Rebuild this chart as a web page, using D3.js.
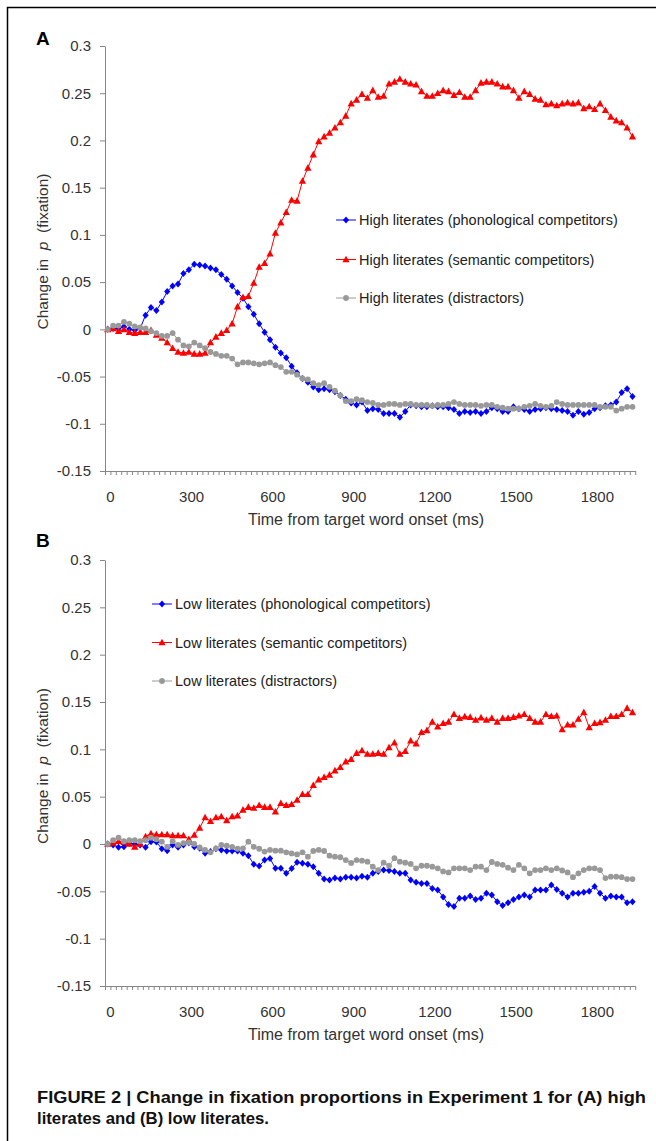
<!DOCTYPE html>
<html><head><meta charset="utf-8">
<script src="https://cdn.jsdelivr.net/npm/d3@7"></script>
<style>
html,body{margin:0;padding:0;background:#fff;}
svg{display:block;}
text{font-family:"Liberation Sans",Arial,Helvetica,sans-serif;}
</style></head><body>
<svg id="chart" width="656" height="1141"></svg>
<script>
// Category axis: time bins (ms)
const times = d3.range(0, 1960, 20);
const xTickValues = [0, 300, 600, 900, 1200, 1500, 1800];
const yTickValues = [-0.15, -0.1, -0.05, 0, 0.05, 0.1, 0.15, 0.2, 0.25, 0.3];

// Panel A: high literates
const highPhono = [
 0.000, 0.001, 0.001, 0.003, 0.000, -0.001, 0.001, 0.015, 0.023, 0.020,
 0.029, 0.040, 0.046, 0.048, 0.059, 0.063, 0.069, 0.068, 0.067, 0.065,
 0.063, 0.058, 0.053, 0.046, 0.039, 0.033, 0.024, 0.016, 0.006, -0.003,
 -0.011, -0.019, -0.025, -0.030, -0.039, -0.046, -0.052, -0.056, -0.061, -0.064,
 -0.063, -0.064, -0.066, -0.070, -0.074, -0.078, -0.080, -0.077, -0.086, -0.084,
 -0.085, -0.089, -0.089, -0.089, -0.093, -0.087, -0.080, -0.081, -0.082, -0.082,
 -0.081, -0.082, -0.082, -0.083, -0.085, -0.089, -0.087, -0.088, -0.087, -0.089,
 -0.087, -0.083, -0.084, -0.087, -0.087, -0.082, -0.084, -0.085, -0.087, -0.085,
 -0.084, -0.083, -0.084, -0.085, -0.086, -0.087, -0.091, -0.087, -0.090, -0.088,
 -0.084, -0.083, -0.081, -0.080, -0.077, -0.067, -0.063, -0.071];
const highSemantic = [
 0.000, 0.001, -0.002, 0.000, -0.003, -0.004, -0.003, -0.003, -0.001, -0.006,
 -0.009, -0.014, -0.020, -0.024, -0.025, -0.024, -0.026, -0.026, -0.025, -0.014,
 -0.008, -0.004, -0.001, 0.006, 0.024, 0.034, 0.035, 0.049, 0.066, 0.070,
 0.080, 0.102, 0.113, 0.124, 0.137, 0.136, 0.157, 0.171, 0.185, 0.199,
 0.204, 0.208, 0.2135, 0.219, 0.226, 0.239, 0.243, 0.249, 0.245, 0.253,
 0.246, 0.247, 0.260, 0.262, 0.265, 0.262, 0.260, 0.259, 0.252, 0.247,
 0.247, 0.250, 0.253, 0.252, 0.248, 0.251, 0.246, 0.246, 0.253, 0.261,
 0.262, 0.262, 0.260, 0.257, 0.257, 0.253, 0.245, 0.252, 0.249, 0.244,
 0.243, 0.238, 0.239, 0.237, 0.239, 0.240, 0.239, 0.240, 0.234, 0.236,
 0.233, 0.239, 0.232, 0.225, 0.221, 0.219, 0.2135, 0.204];
const highDistractor = [
 0.000, 0.004, 0.004, 0.008, 0.006, 0.003, 0.002, 0.001, -0.002, -0.004,
 -0.007, -0.007, -0.004, -0.011, -0.017, -0.018, -0.014, -0.017, -0.020, -0.024,
 -0.026, -0.028, -0.028, -0.031, -0.037, -0.035, -0.035, -0.036, -0.037, -0.036,
 -0.035, -0.038, -0.040, -0.045, -0.045, -0.048, -0.052, -0.053, -0.057, -0.059,
 -0.057, -0.061, -0.065, -0.070, -0.076, -0.076, -0.074, -0.075, -0.077, -0.078,
 -0.080, -0.080, -0.079, -0.079, -0.080, -0.079, -0.079, -0.080, -0.080, -0.080,
 -0.081, -0.080, -0.080, -0.079, -0.077, -0.079, -0.080, -0.080, -0.080, -0.081,
 -0.080, -0.080, -0.082, -0.083, -0.084, -0.084, -0.084, -0.082, -0.081, -0.079,
 -0.081, -0.082, -0.081, -0.077, -0.079, -0.080, -0.080, -0.080, -0.080, -0.080,
 -0.080, -0.082, -0.082, -0.082, -0.086, -0.084, -0.082, -0.082];

// Panel B: low literates
const lowPhono = [
 0.000, -0.001, -0.0035, -0.003, 0.0007, 0.000, -0.001, -0.0035, 0.0025, 0.002,
 -0.005, -0.007, -0.001, -0.0035, -0.001, 0.0014, -0.003, -0.0046, -0.0099, -0.008,
 -0.005, -0.0063, -0.0074, -0.0074, -0.0074, -0.0099, -0.0123, -0.0215, -0.0233, -0.0169,
 -0.0152, -0.0257, -0.0257, -0.031, -0.026, -0.0194, -0.0204, -0.0215, -0.024, -0.031,
 -0.037, -0.038, -0.036, -0.037, -0.035, -0.035, -0.036, -0.034, -0.035, -0.031,
 -0.029, -0.0275, -0.028, -0.029, -0.031, -0.031, -0.038, -0.0405, -0.0416, -0.0416,
 -0.047, -0.0486, -0.056, -0.064, -0.066, -0.0574, -0.0574, -0.055, -0.0585, -0.0574,
 -0.052, -0.054, -0.061, -0.065, -0.062, -0.0585, -0.056, -0.054, -0.056, -0.0486,
 -0.0486, -0.0486, -0.0433, -0.048, -0.052, -0.056, -0.052, -0.052, -0.051, -0.050,
 -0.045, -0.052, -0.0574, -0.055, -0.056, -0.056, -0.062, -0.061];
const lowSemantic = [
 0.000, 0.001, 0.003, 0.002, 0.000, -0.003, 0.000, 0.008, 0.011, 0.010,
 0.010, 0.010, 0.009, 0.009, 0.009, 0.005, 0.0095, 0.017, 0.028, 0.024,
 0.028, 0.029, 0.025, 0.029, 0.030, 0.036, 0.039, 0.038, 0.041, 0.039,
 0.039, 0.034, 0.043, 0.041, 0.042, 0.0465, 0.0525, 0.0525, 0.062, 0.068,
 0.0705, 0.073, 0.0775, 0.081, 0.087, 0.0895, 0.096, 0.0987, 0.095, 0.095,
 0.096, 0.095, 0.102, 0.107, 0.095, 0.098, 0.109, 0.106, 0.118, 0.120,
 0.129, 0.124, 0.1275, 0.129, 0.137, 0.133, 0.1345, 0.134, 0.131, 0.1335,
 0.131, 0.133, 0.129, 0.133, 0.133, 0.134, 0.1355, 0.137, 0.133, 0.129,
 0.129, 0.137, 0.135, 0.1355, 0.121, 0.126, 0.126, 0.132, 0.139, 0.123,
 0.1275, 0.1285, 0.131, 0.135, 0.135, 0.137, 0.1435, 0.139];
const lowDistractor = [
 0.000, 0.004, 0.0067, 0.003, 0.004, 0.004, 0.003, 0.004, 0.0067, 0.005,
 0.0025, -0.003, 0.003, -0.001, 0.001, 0.0018, 0.000, -0.0035, -0.0063, -0.0088,
 -0.0046, -0.001, -0.0018, -0.003, -0.005, -0.0046, 0.0025, -0.003, -0.005, -0.008,
 -0.0063, -0.007, -0.007, -0.0088, -0.010, -0.011, -0.0088, -0.0134, -0.0074, -0.0063,
 -0.0074, -0.0123, -0.0134, -0.014, -0.017, -0.020, -0.017, -0.0176, -0.0187, -0.024,
 -0.0275, -0.0197, -0.023, -0.015, -0.0187, -0.0197, -0.021, -0.0257, -0.023, -0.023,
 -0.024, -0.0257, -0.029, -0.030, -0.0257, -0.0257, -0.0257, -0.0275, -0.024, -0.024,
 -0.0275, -0.019, -0.021, -0.022, -0.025, -0.0275, -0.022, -0.0257, -0.031, -0.0275,
 -0.0275, -0.0257, -0.0275, -0.0257, -0.028, -0.030, -0.035, -0.031, -0.0275, -0.0257,
 -0.0257, -0.0275, -0.036, -0.0345, -0.0345, -0.035, -0.037, -0.037];

const highLabels = ["High literates (phonological competitors)", "High literates (semantic competitors)", "High literates (distractors)"];
const lowLabels = ["Low literates (phonological competitors)", "Low literates (semantic competitors)", "Low literates (distractors)"];
const panelLetters = ["A", "B"];
const xTitle = "Time from target word onset (ms)";
const captionLines = ["FIGURE 2 | Change in fixation proportions in Experiment 1 for (A) high", "literates and (B) low literates."];

const styles = [
  {color: "#0000ff", shape: "diamond"},
  {color: "#ff0000", shape: "triangle"},
  {color: "#999999", shape: "circle"}
];

const svg = d3.select("#chart");
svg.append("rect").attr("width", 656).attr("height", 1141).attr("fill", "#fff");
svg.append("path").attr("d", "M7.5,1141V7.5H656").attr("fill", "none").attr("stroke", "#000").attr("stroke-width", 1.5);

const left = 105, right = 635.2;
const axisColor = "#868686";
const textColor = "#333";

function marker(g, shape, color) {
  if (shape === "diamond") {
    g.append("path").attr("d", "M0,-3.5L3.1,0L0,3.5L-3.1,0Z").attr("fill", color);
  } else if (shape === "triangle") {
    g.append("path").attr("d", "M0,-3.8L3.6,2.8L-3.6,2.8Z").attr("fill", color);
  } else {
    g.append("circle").attr("r", 2.9).attr("fill", color);
  }
}

const panels = [
  {letter: panelLetters[0], top: 46, bottom: 471, letterY: 45, series: [highPhono, highSemantic, highDistractor], labels: highLabels, legX: 336, legY: [220, 259.5, 298]},
  {letter: panelLetters[1], top: 560, bottom: 986, letterY: 547, series: [lowPhono, lowSemantic, lowDistractor], labels: lowLabels, legX: 152, legY: [604, 642.5, 681]}
];

const x = d3.scaleBand().domain(times).range([left, right]);
const xEdge = d3.scaleLinear().domain([0, times.length]).range([left, right]);
const cx = t => x(t) + x.bandwidth() / 2;

panels.forEach(p => {
  const y = d3.scaleLinear().domain([-0.15, 0.3]).range([p.bottom, p.top]);
  const g = svg.append("g");

  // panel letter
  g.append("text").attr("x", 36).attr("y", p.letterY).text(p.letter)
    .attr("font-size", 19).attr("font-weight", "bold").attr("fill", "#000");

  // y axis
  const ya = g.append("g").attr("transform", `translate(${left},0)`)
    .call(d3.axisLeft(y).tickValues(yTickValues).tickSize(5).tickSizeOuter(0)
      .tickFormat(v => String(+v.toFixed(2))));
  ya.selectAll("path,line").attr("stroke", axisColor);
  ya.selectAll("text").attr("x", -14).attr("font-size", 15).attr("fill", textColor)
    .attr("font-family", '"Liberation Sans",Arial,sans-serif');

  // x axis ticks (between categories)
  const xa = g.append("g").attr("transform", `translate(0,${p.bottom})`)
    .call(d3.axisBottom(xEdge).tickValues(d3.range(times.length + 1)).tickSize(4).tickSizeOuter(0).tickFormat(""));
  xa.selectAll("path,line").attr("stroke", axisColor);

  // x labels
  const xl = g.append("g").attr("transform", `translate(${x.bandwidth() / 2},${p.bottom})`)
    .call(d3.axisBottom(x).tickValues(xTickValues).tickSize(0));
  xl.select(".domain").remove();
  xl.selectAll("text").attr("y", 31).attr("dy", null).attr("font-size", 15).attr("fill", textColor)
    .attr("font-family", '"Liberation Sans",Arial,sans-serif');

  // x title
  g.append("text").attr("x", 366).attr("y", p.bottom + 54).attr("text-anchor", "middle")
    .attr("font-size", 16).attr("fill", textColor).text(xTitle);

  // y title
  const yt = g.append("text").attr("transform", `translate(48,${(p.top + p.bottom) / 2 - 7}) rotate(-90)`)
    .attr("text-anchor", "middle").attr("font-size", 15.5).attr("fill", textColor).style("white-space", "pre");
  yt.append("tspan").text("Change in  ");
  yt.append("tspan").attr("font-style", "italic").text("p");
  yt.append("tspan").text("  (fixation)");

  // series
  p.series.forEach((vals, si) => {
    const st = styles[si];
    const data = times.map((t, i) => ({t, v: vals[i]}));
    g.append("path").datum(data)
      .attr("d", d3.line().x(d => cx(d.t)).y(d => y(d.v)))
      .attr("fill", "none").attr("stroke", st.color).attr("stroke-width", 1);
    const mg = g.append("g");
    data.forEach(d => {
      const m = mg.append("g").attr("transform", `translate(${cx(d.t)},${y(d.v)})`);
      marker(m, st.shape, st.color);
    });
  });

  // legend
  p.labels.forEach((lab, si) => {
    const st = styles[si];
    const ly = p.legY[si];
    g.append("line").attr("x1", p.legX).attr("x2", p.legX + 20).attr("y1", ly).attr("y2", ly)
      .attr("stroke", st.color).attr("stroke-width", 1);
    const m = g.append("g").attr("transform", `translate(${p.legX + 10},${ly})`);
    marker(m, st.shape, st.color);
    g.append("text").attr("x", p.legX + 23).attr("y", ly + 5.2).attr("font-size", 14.5)
      .attr("fill", "#222").text(lab);
  });
});

// caption
const capFont = '"Liberation Sans Narrow","Arial Narrow","Roboto Condensed","Liberation Sans",Arial,sans-serif';
svg.append("text").attr("x", 37).attr("y", 1103).attr("font-family", capFont).attr("font-weight", "bold")
  .attr("font-size", 17).attr("fill", "#111").attr("textLength", 609).attr("lengthAdjust", "spacingAndGlyphs")
  .text(captionLines[0]);
svg.append("text").attr("x", 37).attr("y", 1124).attr("font-family", capFont).attr("font-weight", "bold")
  .attr("font-size", 17).attr("fill", "#111").attr("textLength", 232).attr("lengthAdjust", "spacingAndGlyphs")
  .text(captionLines[1]);
</script>
</body></html>
